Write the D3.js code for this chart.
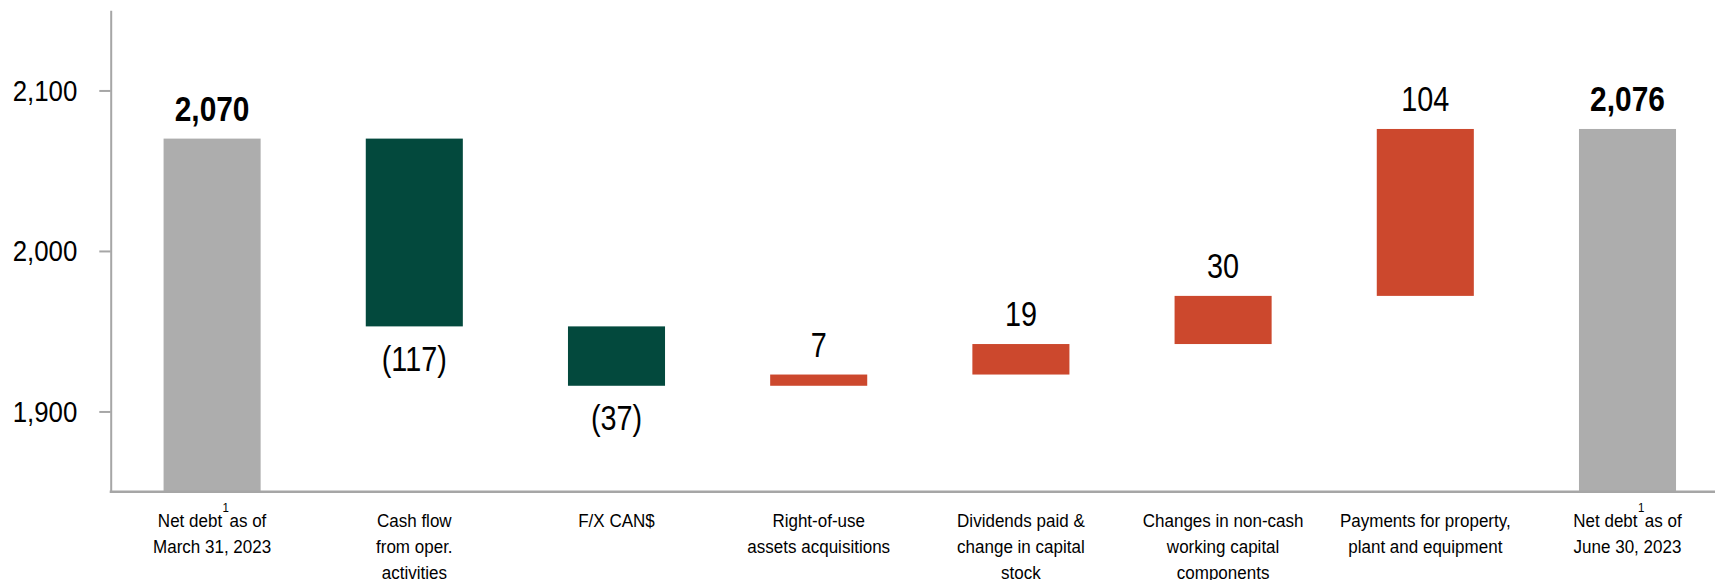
<!DOCTYPE html>
<html lang="en">

<head>
  <meta charset="UTF-8">
  <title>Net debt bridge</title>
  <script src="https://cdn.jsdelivr.net/npm/d3@7"></script>

  <style>
    body {
      margin: 0;
      background: #fff;
    }

    text {
      font-family: "Liberation Sans", Arial, sans-serif;
      fill: #000;
    }
  </style>

</head>

<body>

  <div id="chart"></div>

  <script>

    // chart data
    const categories = [
      ['Net debt', 'as of', 'March 31, 2023'],
      ['Cash flow', 'from oper.', 'activities'],
      ['F/X CAN$'],
      ['Right-of-use', 'assets acquisitions'],
      ['Dividends paid &', 'change in capital', 'stock'],
      ['Changes in non-cash', 'working capital', 'components'],
      ['Payments for property,', 'plant and equipment'],
      ['Net debt', 'as of', 'June 30, 2023']
    ];
    const values = [2070, -117, -37, 7, 19, 30, 104, 2076];
    const isTotal = [true, false, false, false, false, false, false, true];
    const valueLabels = ['2,070', '(117)', '(37)', '7', '19', '30', '104', '2,076'];
    const yTicks = [1900, 2000, 2100];
    const yDomain = [1850, 2150];

    const width = 1715;
    const height = 580;

    const colors = {
      total: '#adadad',
      down: '#03493d',
      up: '#cc482d',
      axis: '#a6a6a6'
    };

    const svg = d3.select('#chart')
      .append('svg')
      .attr('width', width)
      .attr('height', height);

    const axisX = 110.7;
    const baseY = 491.7;

    const scaleY = d3.scaleLinear()
      .domain(yDomain)
      .range([baseY, 10.2]);

    const scaleX = d3.scaleBand()
      .domain(d3.range(categories.length))
      .range([111, 111 + 8 * 202.2])
      .paddingInner(0.52)
      .paddingOuter(0.26);

    // running totals for the waterfall
    let running = 0;
    const bars = values.map((v, i) => {
      let start, end;
      if (isTotal[i]) {
        start = yDomain[0];
        end = v;
        running = v;
      } else {
        start = running;
        end = running + v;
        running = end;
      }
      return {
        i: i,
        value: v,
        total: isTotal[i],
        label: valueLabels[i],
        lo: Math.min(start, end),
        hi: Math.max(start, end)
      };
    });

    svg.selectAll('.bar')
      .data(bars)
      .enter()
      .append('rect')
      .attr('class', 'bar')
      .attr('x', d => scaleX(d.i))
      .attr('width', scaleX.bandwidth())
      .attr('y', d => scaleY(d.hi))
      .attr('height', d => scaleY(d.lo) - scaleY(d.hi))
      .attr('fill', d => d.total ? colors.total : (d.value < 0 ? colors.down : colors.up));

    // y axis
    const yAxis = svg.append('g')
      .attr('transform', `translate(${axisX},0)`)
      .call(d3.axisLeft(scaleY)
        .tickValues(yTicks)
        .tickFormat(d3.format(','))
        .tickSizeOuter(0)
        .tickSizeInner(11.4)
        .tickPadding(22));

    yAxis.select('.domain')
      .attr('stroke', colors.axis)
      .attr('stroke-width', 2);
    yAxis.selectAll('.tick line')
      .attr('stroke', colors.axis)
      .attr('stroke-width', 2);
    yAxis.selectAll('.tick text')
      .attr('x', 0)
      .attr('dy', '0.33em')
      .attr('transform', 'translate(-33.4,0) scale(0.89,1)')
      .style('font-size', '29px')
      .style('font-family', '"Liberation Sans", Arial, sans-serif')
      .attr('fill', '#000');

    // x axis line
    svg.append('line')
      .attr('x1', axisX - 1)
      .attr('x2', width)
      .attr('y1', baseY)
      .attr('y2', baseY)
      .attr('stroke', colors.axis)
      .attr('stroke-width', 2.5);

    // value labels
    svg.selectAll('.val')
      .data(bars)
      .enter()
      .append('text')
      .attr('class', 'val')
      .attr('text-anchor', 'middle')
      .attr('transform', d => {
        const cx = scaleX(d.i) + scaleX.bandwidth() / 2;
        const y = d.value < 0 ? scaleY(d.lo) + 44.7 : scaleY(d.hi) - 18;
        const sx = d.total ? 0.83 : 0.80;
        return `translate(${cx},${y}) scale(${sx},1)`;
      })
      .style('font-size', '36px')
      .style('font-weight', d => d.total ? 'bold' : 'normal')
      .text(d => d.label);

    // category labels
    const cat = svg.selectAll('.cat')
      .data(categories)
      .enter()
      .append('text')
      .attr('class', 'cat')
      .attr('text-anchor', 'middle')
      .attr('transform', (d, i) => `translate(${scaleX(i) + scaleX.bandwidth() / 2},526.7) scale(0.92,1)`)
      .style('font-size', '18.5px');

    cat.each(function (lines, i) {
      const t = d3.select(this);
      if (isTotal[i]) {
        // footnote "1" sits in the gap between "debt" and "as"
        t.append('tspan').attr('x', 0).attr('y', 0).text(lines[0]);
        t.append('tspan').attr('dy', -15).attr('dx', 0.5).style('font-size', '12.5px').text('1');
        t.append('tspan').attr('dy', 15).attr('dx', 0.5).text(lines[1]);
        t.append('tspan').attr('x', 0).attr('y', 26).text(lines[2]);
      } else {
        lines.forEach((line, k) => {
          t.append('tspan').attr('x', 0).attr('y', k * 26).text(line);
        });
      }
    });

  </script>

</body>

</html>
